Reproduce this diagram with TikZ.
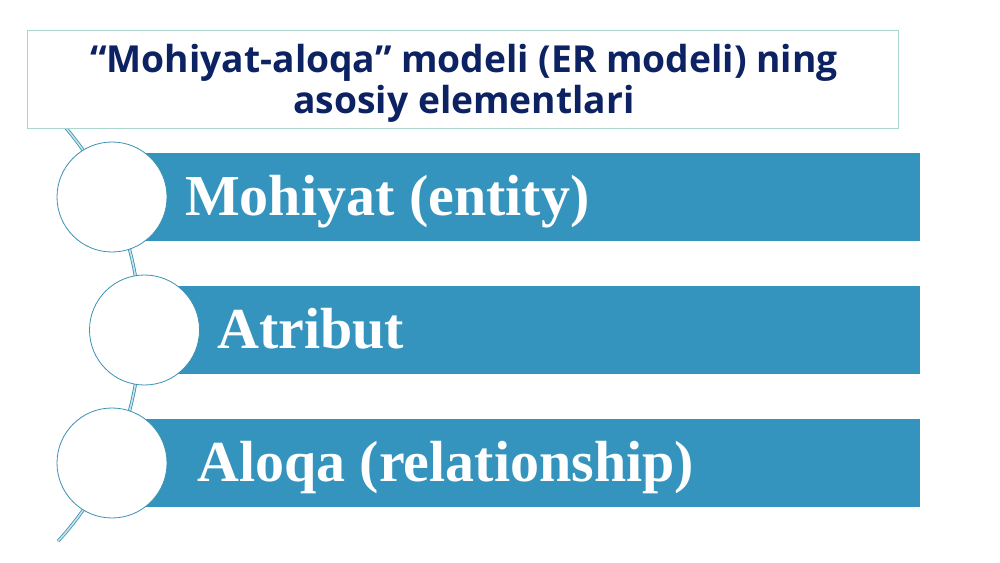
\documentclass[tikz,border=0pt]{standalone}
\usepackage{fontspec}
\setmainfont{Liberation Serif}
\newfontfamily\opensans{Open Sans}
\usetikzlibrary{positioning}
\usepackage{xcolor}
\definecolor{barblue}{RGB}{52,148,189}
\definecolor{titlenavy}{RGB}{12,34,98}
\definecolor{boxline}{RGB}{170,214,207}
\definecolor{ringline}{RGB}{58,146,178}
\definecolor{spinelight}{RGB}{200,226,234}
\tikzset{%
  % Specifications for style of nodes:
        titleBox/.style = {rectangle, draw=boxline, line width=0.8pt, fill=white,
                           minimum width=871, minimum height=98},
       titleText/.style = {align=center, inner sep=0pt, text=titlenavy,
                           font=\opensans\bfseries\fontsize{37.2}{41}\selectfont},
      elementBar/.style = {rectangle, fill=barblue, minimum height=88, inner sep=0pt},
   elementCircle/.style = {circle, draw=ringline, line width=0.8pt, fill=white,
                           minimum size=110, inner sep=0pt},
         barText/.style = {anchor=base west, inner sep=0pt, text=white,
                           font=\bfseries\fontsize{58}{60}\selectfont},
           spine/.style = {draw=ringline, line width=0.8pt, double=spinelight,
                           double distance=1.6pt},
}
\begin{document}
\begin{tikzpicture}[x=1pt, y=-1pt]
  \useasboundingbox[fill=white] (0,0) rectangle (1000,562);
  % Specification of the curved line behind the circles
  \coordinate (spineTop) at (58,119);
  \draw[spine] (spineTop) arc[start angle=-42.5, end angle=42.5, radius=312.5]
    coordinate (spineEnd);
  % Specification of nodes (position, etc.)
  \node (title) [titleBox] at (462.5,79) {};
  \node (heading) [titleText, anchor=base] at (464,113)
    {“Mohiyat-aloqa” modeli (ER modeli) ning\\asosiy elementlari};
  \node (bar1) [elementBar, minimum width=808]   at (516,197) {};
  \node (bar2) [elementBar, minimum width=775.5] at (532.25,330) {};
  \node (bar3) [elementBar, minimum width=808]   at (516,463) {};
  \node (circ1) [elementCircle] at (112,197) {};
  \node (circ2) [elementCircle] at (144.5,330) {};
  \node (circ3) [elementCircle] at (112,463) {};
  % texts on the bars
  \node (entity)   [barText] at (185,215) {Mohiyat (entity)};
  \node (atribut)  [barText] at (217,348) {Atribut};
  \node (relation) [barText] at (197,481) {Aloqa (relationship)};
\end{tikzpicture}
\end{document}
